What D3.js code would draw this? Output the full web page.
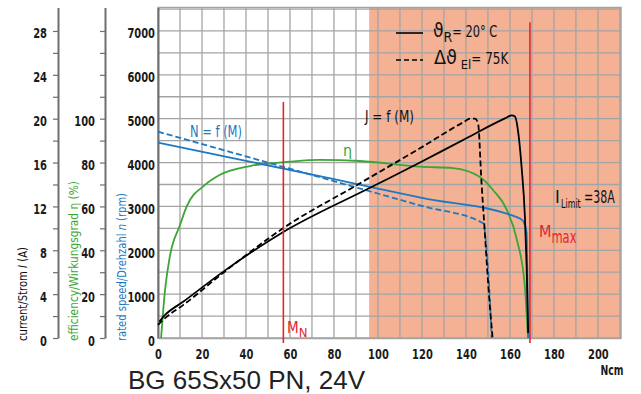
<!DOCTYPE html>
<html><head><meta charset="utf-8">
<script src="https://cdn.jsdelivr.net/npm/d3@7"></script>
<style>
html,body{margin:0;padding:0;background:#fff;}
svg{display:block;}
</style></head><body>
<svg id="c" width="641" height="394"></svg>
<script>
// ---------------- data ----------------
const torqueTicks = [0,20,40,60,80,100,120,140,160,180,200];
const speedTicks = [0,1000,2000,3000,4000,5000,6000,7000];
const currentTicks = [0,2,4,6,8,10,12,14,16,18,20,22,24,26,28];
const currentLabels = [0,4,8,12,16,20,24,28];
const effTicks = [0,10,20,30,40,50,60,70,80,90,100,110,120,130,140];
const effLabels = [0,20,40,60,80,100];

// [torque Ncm, rpm]
const speedCold = [[0,4453],[40,4040],[80,3620],[120,3195],[164.5,2729],[166.3,2640],[167.6,2387],[168.3,114],[168.5,0]];
const speedHot  = [[0,4704],[40,4140],[80,3575],[120,3010],[147.9,2615],[149.4,2006],[150.9,866],[151.7,0]];
// [torque Ncm, current A]
const currentCold = [[0.6,1.5],[3.2,2.1],[11.4,3.3],[30,6.1],[56.4,9.6],[96.4,13.7],[119.1,16.0],[140,18.2],[158,20.05],[160.8,20.3],[162.3,20.2],[163.8,18.7],[165.3,15.6],[166.8,11.1],[167.6,6.5],[168.3,0.46]];
const currentHot  = [[0,1.19],[3.2,1.82],[11.4,3.0],[30,6.0],[56.8,10.0],[90,13.9],[119.1,17.3],[139,19.7],[141.8,20.0],[144.1,20.0],[145.5,19.6],[147.1,14.1],[148.6,9.6],[150.1,5.0],[152.1,0]];
// [torque Ncm, efficiency %]
const efficiency = [[1.4,0],[3.2,21.9],[5.5,37.8],[10,51.5],[13,59.9],[21.4,69.8],[28.2,74.4],[41.8,78.4],[60,80.4],[73.6,81.2],[91.8,80.7],[119.1,78.1],[134.1,77.5],[146.4,73.4],[152.3,67.5],[158.6,58.4],[163.2,44.7],[166.8,23.3],[168.2,0]];
// red marker lines: [torque, top rpm]
const markers = [[57,5380],[169.1,7200]];
const hotZoneStart = 96;

// ---------------- layout ----------------
const L = 158, R = 621, T = 7.5, B = 338;
const svg = d3.select("#c");
const NAR = '"Liberation Sans Narrow","Arial Narrow","DejaVu Sans Condensed",sans-serif';
const x  = d3.scaleLinear().domain([0,210.5]).range([L,R]);
const yN = d3.scaleLinear().domain([0,7535]).range([B,T]);
const yI = d3.scaleLinear().domain([0,7535/250]).range([B,T]);
const yE = d3.scaleLinear().domain([0,7535/50]).range([B,T]);

const BLUE="#1f78c1", GREEN="#3aa635", RED="#e3262d", ORANGE="#f4b194", GRID="#a4a4a4", AX="#6e6e6e";

// hot zone
svg.append("rect").attr("x",x(hotZoneStart)).attr("y",T).attr("width",R-x(hotZoneStart)).attr("height",B-T).attr("fill",ORANGE);

// grid
const g = svg.append("g").attr("stroke",GRID).attr("stroke-width",1.3);
g.selectAll(".v").data(d3.range(10,211,10)).join("line")
 .attr("x1",d=>x(d)).attr("x2",d=>x(d)).attr("y1",T).attr("y2",B);
g.selectAll(".h").data(d3.range(500,7501,500)).join("line")
 .attr("y1",d=>yN(d)).attr("y2",d=>yN(d)).attr("x1",L).attr("x2",R);
svg.append("rect").attr("x",L).attr("y",T).attr("width",R-L).attr("height",B-T)
 .attr("fill","none").attr("stroke",GRID).attr("stroke-width",1.5);

function styleAxis(sel, color){
  sel.select(".domain").attr("stroke",AX).attr("stroke-width",2);
  sel.selectAll(".tick line").attr("stroke",AX).attr("stroke-width",1.2);
  sel.selectAll("text").attr("font-family",NAR).attr("font-size",14).attr("font-weight","bold").attr("fill",color||"#1a1a1a")
   .each(function(){const s=this.textContent; if(s.length) d3.select(this).attr("textLength",s.length*6.9).attr("lengthAdjust","spacingAndGlyphs");});
}
const fmt = d3.format("d");
// current axis
const aI = svg.append("g").attr("transform","translate(58,0)")
 .call(d3.axisLeft(yI).tickValues(currentTicks).tickSize(5).tickSizeOuter(0).tickPadding(6)
 .tickFormat(d=>currentLabels.includes(d)?fmt(d):""));
styleAxis(aI); aI.selectAll("text").attr("dy","0.5em");
// efficiency axis
const aE = svg.append("g").attr("transform","translate(105,0)")
 .call(d3.axisLeft(yE).tickValues(effTicks).tickSize(5).tickSizeOuter(0).tickPadding(5)
 .tickFormat(d=>effLabels.includes(d)?fmt(d):""));
styleAxis(aE); aE.selectAll("text").attr("dy","0.5em");
// speed axis
const aN = svg.append("g").attr("transform",`translate(${L},0)`)
 .call(d3.axisLeft(yN).tickValues(speedTicks).tickSize(0).tickSizeOuter(0).tickPadding(3).tickFormat(fmt));
styleAxis(aN); aN.selectAll("text").attr("dy","0.5em");
// torque axis
const aX = svg.append("g").attr("transform",`translate(0,${B})`)
 .call(d3.axisBottom(x).tickValues(torqueTicks).tickSize(0).tickSizeOuter(0).tickPadding(11).tickFormat(fmt));
styleAxis(aX); aX.select(".domain").attr("stroke",GRID).attr("stroke-width",1.5);

// curves
const lineN = d3.line().x(d=>x(d[0])).y(d=>yN(d[1])).curve(d3.curveMonotoneX);
const lineI = d3.line().x(d=>x(d[0])).y(d=>yI(d[1])).curve(d3.curveMonotoneX);
const lineE = d3.line().x(d=>x(d[0])).y(d=>yE(d[1])).curve(d3.curveMonotoneX);
function path(data, gen, color, dash){
  svg.append("path").attr("d",gen(data)).attr("fill","none").attr("stroke",color)
   .attr("stroke-width",1.8).attr("stroke-dasharray",dash||null);
}
path(efficiency, lineE, GREEN);
path(speedHot, lineN, BLUE, "6,3");
path(speedCold, lineN, BLUE);
path(currentHot, lineI, "#000", "6,3");
path(currentCold, lineI, "#000");

// markers
svg.selectAll(".mk").data(markers).join("line")
 .attr("x1",d=>x(d[0])).attr("x2",d=>x(d[0])).attr("y1",d=>yN(d[1])).attr("y2",B+5)
 .attr("stroke",RED).attr("stroke-width",1.6);

// text helper
function text(xp,yp,parts,color,anchor){
  const t = svg.append("text").attr("x",xp).attr("y",yp).attr("fill",color||"#111")
   .attr("font-family",NAR).attr("text-anchor",anchor||"start");
  parts.forEach(p=>{
    const s=t.append("tspan").text(p.t).attr("font-size",p.s||15);
    if(p.dy) s.attr("dy",p.dy);
    if(p.dx) s.attr("dx",p.dx);
    if(p.len) s.attr("textLength",p.len).attr("lengthAdjust","spacingAndGlyphs");
    if(p.b) s.attr("font-weight","bold");
  });
  return t;
}
// legend
svg.append("line").attr("x1",396).attr("x2",423).attr("y1",33).attr("y2",33).attr("stroke","#000").attr("stroke-width",1.6);
svg.append("line").attr("x1",396).attr("x2",423).attr("y1",60).attr("y2",60).attr("stroke","#000").attr("stroke-width",1.6).attr("stroke-dasharray","5,3");
text(433,37,[{t:"ϑ",s:19},{t:"R",s:14,dy:5},{t:"= 20° C",s:15,dy:-5,len:45}],"#111");
text(434,64,[{t:"Δϑ",s:19,len:23},{t:" El",s:13,dy:5},{t:"= 75K",s:15,dy:-5,len:37}],"#111");

// annotations
text(190,137,[{t:"N = f (M)",s:15,len:52}],BLUE);
text(365,122,[{t:"J = f (M)",s:15,len:49}],"#111");
text(343,156,[{t:"η",s:16}],GREEN);
text(287,333,[{t:"M",s:15},{t:"N",s:13,dy:4}],RED);
text(539,237,[{t:"M",s:16},{t:"max",s:17,dy:6,len:25}],RED);
text(555,203,[{t:"I",s:18}],"#111");
svg.append("text").attr("transform","translate(561,208) scale(0.68,1)")
 .attr("font-family",NAR).attr("font-size",13).attr("fill","#111").text("Limit");
svg.append("text").attr("transform","translate(584,203) scale(0.72,1)")
 .attr("font-family",NAR).attr("font-size",17).attr("fill","#111").text("=38A");
text(612,375,[{t:"Ncm",s:14,len:23,b:1}],"#1a1a1a","middle");

// axis titles
function vtitle(xb, parts, color, len){
  const t = svg.append("text").attr("transform",`translate(${xb},341) rotate(-90)`)
   .attr("fill",color).attr("font-family",NAR).attr("font-size",13);
  parts.forEach(p=>{const s=t.append("tspan").text(p.t); if(p.i) s.attr("font-style","italic");});
  t.attr("textLength",len).attr("lengthAdjust","spacingAndGlyphs");
}
vtitle(27,[{t:"current/Strom  "},{t:"I",i:1},{t:" (A)"}],"#111",94);
vtitle(78,[{t:"efficiency/Wirkungsgrad η  (%)"}],GREEN,160);
vtitle(126,[{t:"rated speed/Drehzahl  "},{t:"n",i:1},{t:" (rpm)"}],BLUE,148);

// title
svg.append("text").attr("x",128).attr("y",389).attr("font-family","'Liberation Sans',Arial,sans-serif")
 .attr("font-size",26).attr("fill","#222").text("BG 65Sx50 PN, 24V");
</script>
</body></html>
